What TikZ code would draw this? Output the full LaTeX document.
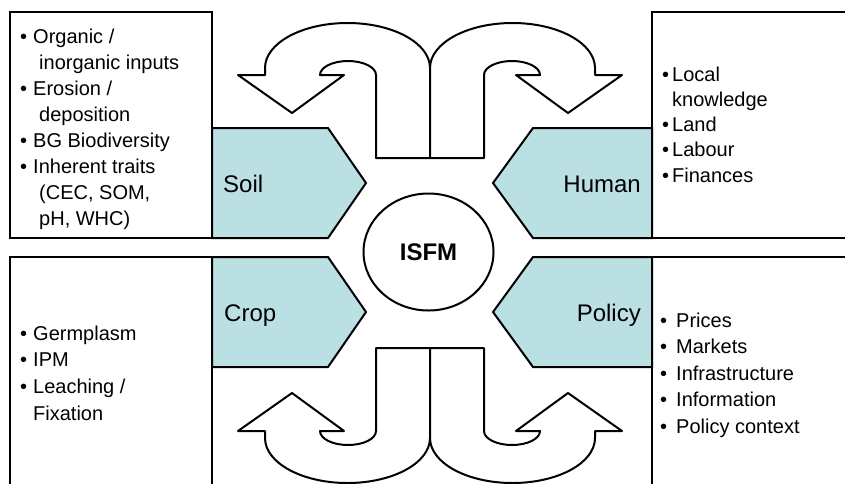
\documentclass[tikz,border=0pt]{standalone}
\usepackage{fontspec}
\setmainfont{Liberation Sans}
\usetikzlibrary{shapes.geometric}
\definecolor{pentfill}{RGB}{187,224,227}
\tikzset{
  frame/.style={draw=black, line width=2pt},
  pentagon/.style={draw=black, fill=pentfill, line width=2pt, line join=miter},
  uarrow/.style={draw=black, fill=white, line width=2pt, line join=round},
  pentlabel/.style={font=\fontsize{24}{28}\selectfont, inner sep=0pt},
  hub/.style={ellipse, draw=black, fill=white, line width=2pt, minimum width=130pt, minimum height=117pt, inner sep=0pt, font=\fontsize{24}{28}\selectfont\bfseries},
  bullets/.style={inner sep=0pt, anchor=base west}
}
\newcommand{\UTurnShape}{%
  \path[uarrow] (-54,95) -- (-54,178)
    arc[start angle=0, end angle=180, x radius=28, y radius=14]
    -- (-86,178) -- (-138,140) -- (-192,178) -- (-165,178) -- (-165,185)
    arc[start angle=180, end angle=0, x radius=82.5, y radius=45]
    -- (0,95) -- cycle;}
\begin{document}
\begin{tikzpicture}[x=1pt,y=1pt]
\useasboundingbox (0,0) rectangle (845,-483);
\clip (0,0) rectangle (845,-483);
\fill[white] (0,0) rectangle (845,-483);
% boxes
\draw[frame] (10,-12) rectangle (212,-238);
\draw[frame] (652,-12) rectangle (870,-238);
\draw[frame] (10,-257) rectangle (212,-520);
\draw[frame] (652,-257) rectangle (870,-520);
% pentagons
\draw[pentagon] (212,-128) -- (328,-128) -- (366,-183) -- (328,-238) -- (212,-238) -- cycle;
\draw[pentagon] (212,-257) -- (328,-257) -- (366,-312) -- (328,-367) -- (212,-367) -- cycle;
\draw[pentagon] (652,-128) -- (533,-128) -- (493,-183) -- (533,-238) -- (652,-238) -- cycle;
\draw[pentagon] (652,-257) -- (533,-257) -- (493,-312) -- (533,-367) -- (652,-367) -- cycle;
\node[pentlabel, anchor=base west] (soil) at (223,-192.5) {Soil};
\node[pentlabel, anchor=base west] (crop) at (224,-321) {Crop};
\node[pentlabel, anchor=base east] (human) at (641,-192.5) {Human};
\node[pentlabel, anchor=base east] (policy) at (641,-321) {Policy};
% u-turn arrows
\begin{scope}[shift={(430,-253)}]
  \UTurnShape
\end{scope}
\begin{scope}[shift={(430,-253)}, xscale=-1]
  \UTurnShape
\end{scope}
\begin{scope}[shift={(430,-253)}, yscale=-1]
  \UTurnShape
\end{scope}
\begin{scope}[shift={(430,-253)}, xscale=-1, yscale=-1]
  \UTurnShape
\end{scope}
% hub
\node[hub] (isfm) at (428.5,-252) {ISFM};
% bullet lists
\node[bullets, font=\fontsize{20}{26}\selectfont] (soillist) at (20,-43) {%
\begin{tabular}[t]{@{}l@{\hspace{6pt}}l@{}}
\textbullet & Organic /\\
 & \hspace{6pt}inorganic inputs\\
\textbullet & Erosion /\\
 & \hspace{6pt}deposition\\
\textbullet & BG Biodiversity\\
\textbullet & Inherent traits\\
 & \hspace{6pt}(CEC, SOM,\\
 & \hspace{6pt}pH, WHC)
\end{tabular}};
\node[bullets, font=\fontsize{20}{25.3}\selectfont] (humanlist) at (662,-81) {%
\begin{tabular}[t]{@{}l@{\hspace{3pt}}l@{}}
\textbullet & Local\\
 & knowledge\\
\textbullet & Land\\
\textbullet & Labour\\
\textbullet & Finances
\end{tabular}};
\node[bullets, font=\fontsize{20}{26.7}\selectfont] (croplist) at (20,-340) {%
\begin{tabular}[t]{@{}l@{\hspace{6pt}}l@{}}
\textbullet & Germplasm\\
\textbullet & IPM\\
\textbullet & Leaching /\\
 & Fixation
\end{tabular}};
\node[bullets, font=\fontsize{20}{26.5}\selectfont] (policylist) at (660,-327) {%
\begin{tabular}[t]{@{}l@{\hspace{9pt}}l@{}}
\textbullet & Prices\\
\textbullet & Markets\\
\textbullet & Infrastructure\\
\textbullet & Information\\
\textbullet & Policy context
\end{tabular}};
\end{tikzpicture}
\end{document}
